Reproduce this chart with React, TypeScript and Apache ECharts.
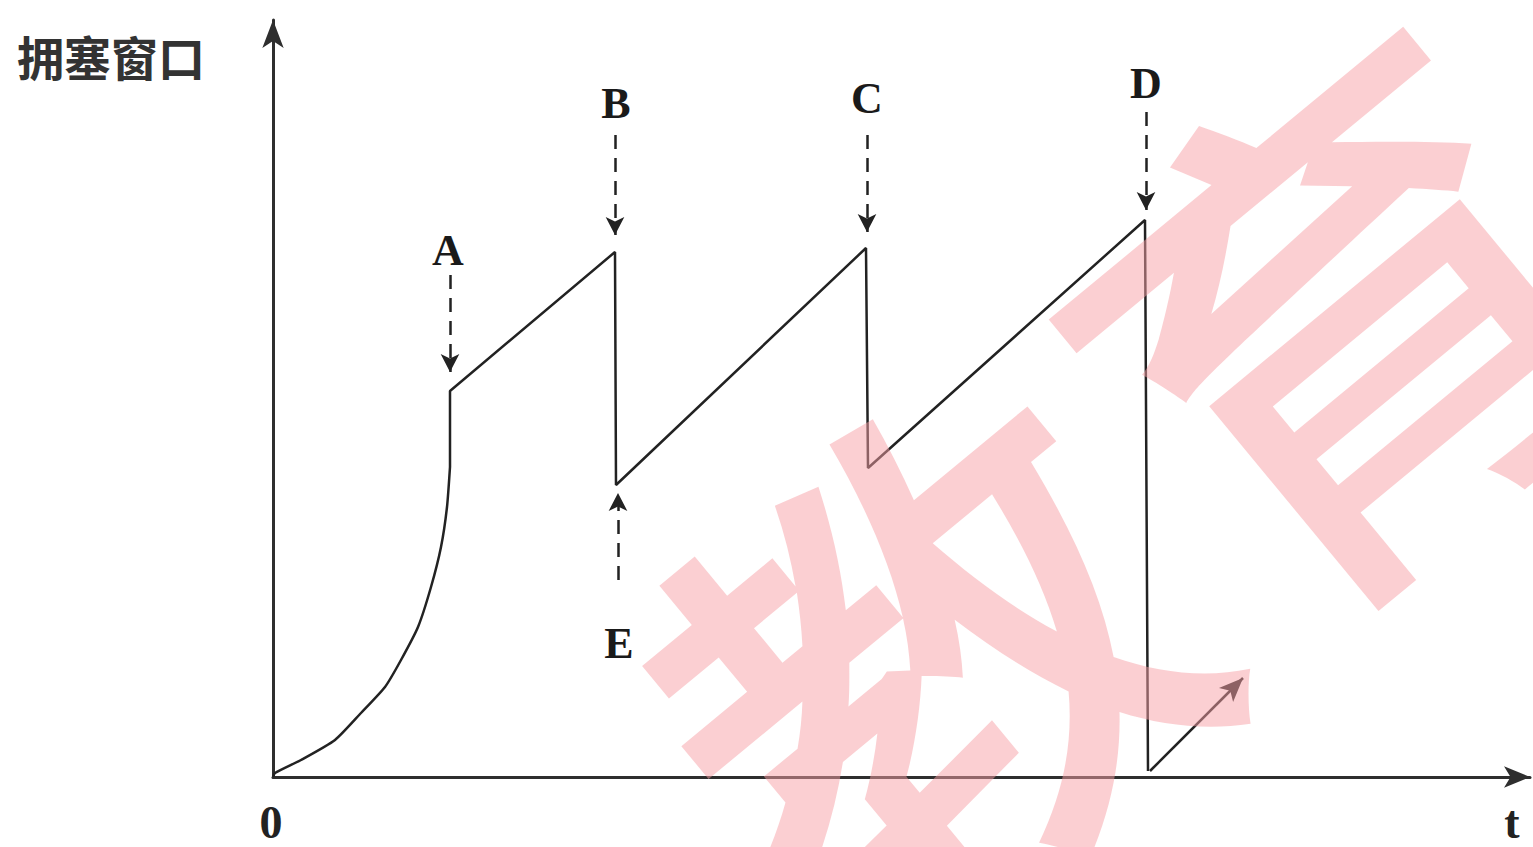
import React, { useEffect, useRef } from "react";
import * as echarts from "echarts";

// Slow-start (exponential) curve: time vs congestion window
const slowStartX = [0, 2, 28, 62, 88, 112, 128, 145, 158, 168, 174, 177];
const slowStartY = [0, 4, 17, 37, 64, 90, 117, 150, 190, 230, 270, 310];

// Jump at A, additive increase, drops at B, C, D
const sawX = [177, 177, 342, 343, 593, 595, 872, 875];
const sawY = [310, 386, 525, 292, 529, 309, 557, 6];

// Point labels and their positions
const labelNames = ["A", "B", "C", "D", "E"];
const labelX = [175, 343, 594, 873, 346];
const labelY = [527, 674, 679, 694, 134];

// Dashed annotation arrows: [x, yFrom, yTo]
const arrowX = [177, 342, 594, 873, 345];
const arrowFrom = [502, 642, 642, 665, 197];
const arrowTo = [405, 542, 545, 567, 284];

// Restart arrow after timeout at D
const restartFrom = [877, 6];
const restartTo = [970, 99];

const yAxisTitle = "拥塞窗口";
const xAxisTitle = "t";
const originLabel = "0";
const watermarkChars = ["教", "育"];

export default function App() {
  const ref = useRef<HTMLDivElement>(null);
  useEffect(() => {
    if (!ref.current) return;
    const chart = echarts.init(ref.current, undefined, { renderer: "svg" });
    const ink = "#222222";
    const serif = "'Liberation Serif', 'DejaVu Serif', serif";
    const markData: any[] = arrowX.map((x, i) => [
      { coord: [x, arrowFrom[i]], symbol: "none" },
      { coord: [x, arrowTo[i]], symbol: "arrow", symbolSize: [14, 18] },
    ]);
    markData.push([
      {
        coord: restartFrom,
        symbol: "none",
        lineStyle: { type: "solid", width: 2.5, color: ink },
      },
      { coord: restartTo, symbol: "arrow", symbolSize: [15, 24] },
    ]);
    const wmPos = [
      [915, 650],
      [1330, 300],
    ];
    chart.setOption({
      animation: false,
      backgroundColor: "#ffffff",
      grid: { left: 273, right: 3, top: 20, bottom: 70 },
      xAxis: {
        type: "value",
        min: 0,
        max: 1257,
        axisLine: {
          show: true,
          symbol: ["none", "arrow"],
          symbolSize: [16, 26],
          lineStyle: { color: "#2e2e2e", width: 3 },
        },
        axisTick: { show: false },
        axisLabel: { show: false },
        splitLine: { show: false },
      },
      yAxis: {
        type: "value",
        min: 0,
        max: 757,
        axisLine: {
          show: true,
          symbol: ["none", "arrow"],
          symbolSize: [16, 28],
          lineStyle: { color: "#2e2e2e", width: 3 },
        },
        axisTick: { show: false },
        axisLabel: { show: false },
        splitLine: { show: false },
      },
      series: [
        {
          type: "line",
          smooth: 0.2,
          symbol: "none",
          data: slowStartX.map((x, i) => [x, slowStartY[i]]),
          lineStyle: { color: ink, width: 2.5 },
        },
        {
          type: "line",
          symbol: "none",
          data: sawX.map((x, i) => [x, sawY[i]]),
          lineStyle: { color: ink, width: 2.5 },
          markLine: {
            silent: true,
            animation: false,
            label: { show: false },
            lineStyle: { type: [14, 9], width: 2.5, color: ink },
            data: markData,
          },
        },
        {
          type: "scatter",
          symbolSize: 0,
          itemStyle: { opacity: 1 },
          data: labelX.map((x, i) => [x, labelY[i], labelNames[i]]),
          label: {
            show: true,
            position: "inside",
            formatter: (p: any) => p.data[2],
            fontFamily: serif,
            fontWeight: "bold",
            fontSize: 44,
            color: "#1a1a1a",
            opacity: 1,
          },
        },
      ],
      graphic: [
        {
          type: "text",
          left: 17,
          top: 32,
          style: {
            text: yAxisTitle,
            font: "bold 47px 'Noto Sans CJK SC'",
            fill: "#333",
          },
        },
        {
          type: "text",
          x: 271,
          y: 822,
          style: {
            text: originLabel,
            font: `bold 46px ${serif}`,
            fill: ink,
            align: "center",
            verticalAlign: "middle",
          },
        },
        {
          type: "text",
          x: 1512,
          y: 822,
          style: {
            text: xAxisTitle,
            font: `bold 46px ${serif}`,
            fill: ink,
            align: "center",
            verticalAlign: "middle",
          },
        },
        ...watermarkChars.map((c, i) => ({
          type: "text",
          x: wmPos[i][0],
          y: wmPos[i][1],
          rotation: 0.69,
          z: 100,
          silent: true,
          style: {
            text: c,
            font: "500 520px 'Noto Sans CJK SC'",
            fill: "rgba(248,160,165,0.5)",
            align: "center",
            verticalAlign: "middle",
          },
        })),
      ],
    });
    return () => chart.dispose();
  }, []);
  return (
    <div
      ref={ref}
      style={{ position: "absolute", left: 0, top: 0, width: 1533, height: 847 }}
    />
  );
}
